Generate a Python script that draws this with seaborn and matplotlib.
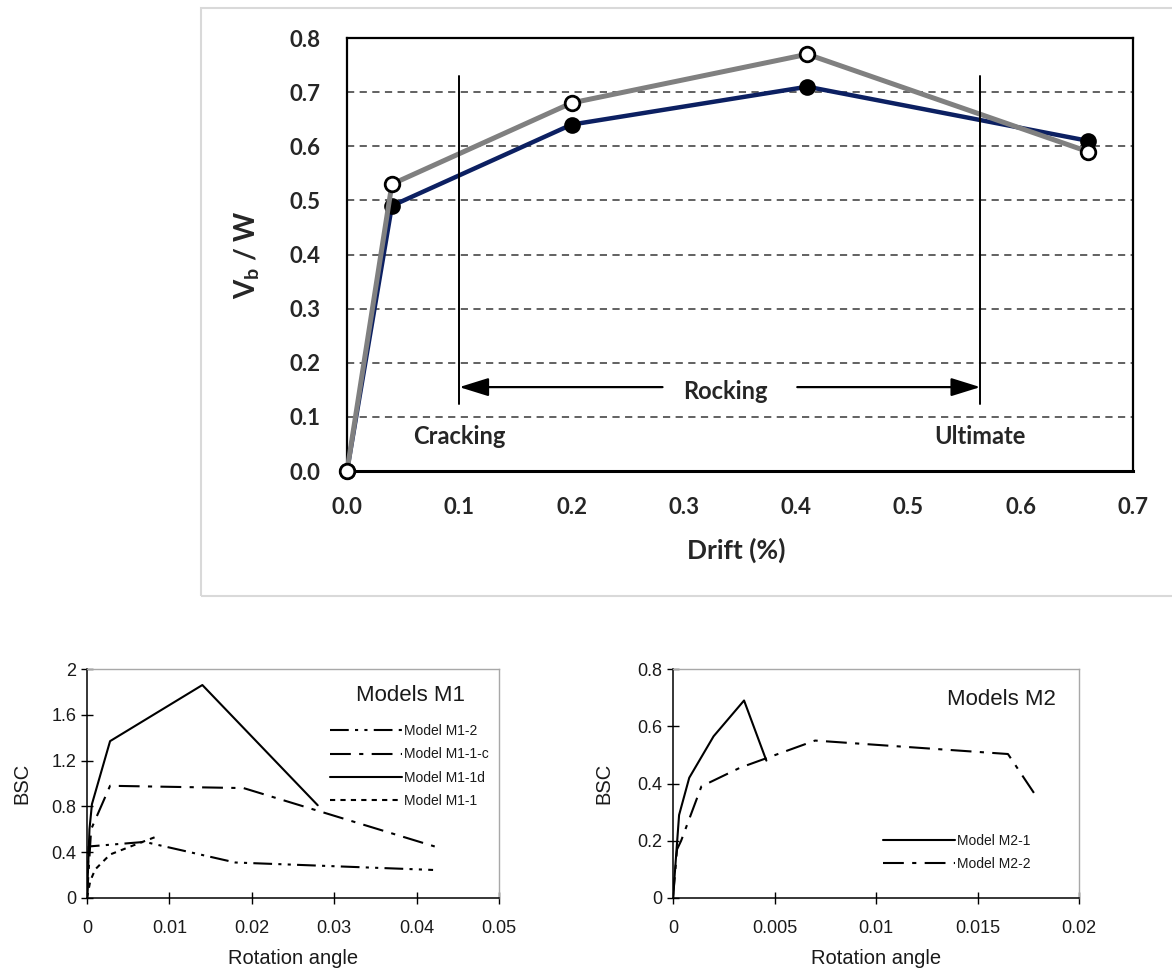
import numpy as np
import pandas as pd
import matplotlib
matplotlib.use("Agg")
import matplotlib.pyplot as plt
import matplotlib.patches as mpatches
import seaborn as sns

# ---------------- data ----------------
drift = [0.0, 0.04, 0.20, 0.41, 0.66]
vb_navy = [0.0, 0.49, 0.64, 0.71, 0.61]
vb_gray = [0.0, 0.53, 0.68, 0.77, 0.59]
top_xticks = [0.0, 0.1, 0.2, 0.3, 0.4, 0.5, 0.6, 0.7]
top_yticks = [0.0, 0.1, 0.2, 0.3, 0.4, 0.5, 0.6, 0.7, 0.8]
cracking_drift = 0.10
ultimate_drift = 0.564

m1_2_x = [0.0, 0.0002, 0.007, 0.018, 0.042]
m1_2_y = [0.0, 0.45, 0.49, 0.31, 0.245]
m1_1c_x = [0.0, 0.0005, 0.0028, 0.019, 0.0422]
m1_1c_y = [0.0, 0.60, 0.98, 0.96, 0.45]
m1_1d_x = [0.0, 0.0003, 0.0006, 0.0028, 0.014, 0.028]
m1_1d_y = [0.0, 0.60, 0.82, 1.37, 1.86, 0.81]
m1_1_x = [0.0, 0.0004, 0.001, 0.0028, 0.006, 0.0082]
m1_1_y = [0.0, 0.15, 0.25, 0.38, 0.47, 0.53]
m1_xticks = [0, 0.01, 0.02, 0.03, 0.04, 0.05]
m1_xlabels = ["0", "0.01", "0.02", "0.03", "0.04", "0.05"]
m1_yticks = [0, 0.4, 0.8, 1.2, 1.6, 2.0]
m1_ylabels = ["0", "0.4", "0.8", "1.2", "1.6", "2"]

m2_1_x = [0.0, 0.0003, 0.0008, 0.002, 0.0035, 0.0046]
m2_1_y = [0.0, 0.29, 0.42, 0.565, 0.69, 0.48]
m2_2_x = [0.0, 0.0002, 0.0004, 0.0014, 0.0033, 0.007, 0.0165, 0.0178]
m2_2_y = [0.0, 0.17, 0.20, 0.39, 0.455, 0.55, 0.503, 0.365]
m2_xticks = [0, 0.005, 0.01, 0.015, 0.02]
m2_xlabels = ["0", "0.005", "0.01", "0.015", "0.02"]
m2_yticks = [0, 0.2, 0.4, 0.6, 0.8]
m2_ylabels = ["0", "0.2", "0.4", "0.6", "0.8"]

# ---------------- style ----------------
sns.set_theme(style="white")
plt.rcParams['font.family'] = ['Lato', 'DejaVu Sans']
plt.rcParams['mathtext.fontset'] = 'custom'
plt.rcParams['mathtext.rm'] = 'Lato'
plt.rcParams['mathtext.bf'] = 'Lato:bold'

W, H = 1172, 969
fig = plt.figure(figsize=(W / 100, H / 100), dpi=100)
fig.patch.set_facecolor('white')

def fx(px):
    return px / W

def fy(py):
    return 1 - py / H

# outer frame around top chart
fig.add_artist(mpatches.Rectangle((fx(201), fy(596)), fx(1180 - 201), (596 - 8) / H,
                                  transform=fig.transFigure, fill=False,
                                  edgecolor='#d9d9d9', lw=1.5))

# ---------------- top chart ----------------
ax = fig.add_axes([fx(347), fy(471), (1133 - 347) / W, (471 - 38) / H])
ax.set_facecolor('white')
for y in top_yticks[1:-1]:
    ax.axhline(y, color='#555555', lw=1.3, linestyle=(0, (4, 3)), zorder=1)

df_top = pd.DataFrame({'drift': drift, 'navy': vb_navy, 'gray': vb_gray})
sns.lineplot(data=df_top, x='drift', y='navy', ax=ax, color='#0c2062', lw=3.2,
             marker='o', markersize=10.5, markerfacecolor='black',
             markeredgecolor='black', markeredgewidth=1.5, zorder=3, clip_on=False)
sns.lineplot(data=df_top, x='drift', y='gray', ax=ax, color='#808080', lw=3.6,
             marker='o', markersize=10.5, markerfacecolor='white',
             markeredgecolor='black', markeredgewidth=2, zorder=4, clip_on=False)

ax.set_xlim(0, 0.7)
ax.set_ylim(0, 0.8)
ax.set_xticks(top_xticks)
ax.set_xticklabels([f"{v:.1f}" for v in top_xticks])
ax.set_yticks(top_yticks)
ax.set_yticklabels([f"{v:.1f}" for v in top_yticks])
ax.tick_params(axis='both', length=0, pad=19, labelsize=16)
for lab in ax.get_xticklabels() + ax.get_yticklabels():
    lab.set_fontweight('bold')
for sp in ax.spines.values():
    sp.set_color('black')
    sp.set_linewidth(1.6)
ax.spines['bottom'].set_linewidth(2.2)

ax.set_xlabel('Drift (%)', fontsize=19, fontweight='bold')
ax.set_ylabel(r'$\mathbf{V_b}$ / W', fontsize=20, fontweight='bold')
ax.xaxis.set_label_coords(0.495, -0.155)
ax.yaxis.set_label_coords(-0.108, 0.5)

# cracking / ultimate markers
for xv in (cracking_drift, ultimate_drift):
    ax.plot([xv, xv], [0.124, 0.73], color='black', lw=1.4, zorder=5)
ax.annotate('', xy=(cracking_drift, 0.155), xytext=(0.281, 0.155),
            arrowprops=dict(arrowstyle='-|>,head_length=0.9,head_width=0.28',
                            color='black', lw=1.6, mutation_scale=20,
                            shrinkA=0, shrinkB=0), zorder=5)
ax.annotate('', xy=(ultimate_drift, 0.155), xytext=(0.401, 0.155),
            arrowprops=dict(arrowstyle='-|>,head_length=0.9,head_width=0.28',
                            color='black', lw=1.6, mutation_scale=20,
                            shrinkA=0, shrinkB=0), zorder=5)
ax.text(0.337, 0.146, 'Rocking', ha='center', va='center', fontsize=17, fontweight='bold')
ax.text(cracking_drift, 0.063, 'Cracking', ha='center', va='center', fontsize=17, fontweight='bold')
ax.text(ultimate_drift, 0.063, 'Ultimate', ha='center', va='center', fontsize=17, fontweight='bold')

# ---------------- bottom charts ----------------
sans = ['Liberation Sans', 'DejaVu Sans']
txtc = '#1a1a1a'

def style_bottom(a, xticks, xlabels, yticks, ylabels, xlim, ylim, ylab_x):
    a.set_facecolor('white')
    a.set_xlim(*xlim)
    a.set_ylim(*ylim)
    a.set_xticks(xticks)
    a.set_xticklabels(xlabels, family=sans, color=txtc)
    a.set_yticks(yticks)
    a.set_yticklabels(ylabels, family=sans, color=txtc)
    a.tick_params(axis='both', direction='inout', length=9, width=1, color='black',
                  labelsize=13, left=True, bottom=True)
    a.tick_params(axis='x', pad=11)
    a.tick_params(axis='y', pad=3)
    for s in ('left', 'bottom'):
        a.spines[s].set_color('black')
        a.spines[s].set_linewidth(1.1)
    for s in ('top', 'right'):
        a.spines[s].set_color('#a8a8a8')
        a.spines[s].set_linewidth(1.0)
    a.set_xlabel('Rotation angle', family=sans, fontsize=14.5, color=txtc)
    a.set_ylabel('BSC', family=sans, fontsize=14.5, color=txtc)
    a.xaxis.set_label_coords(0.5, -0.222)
    a.yaxis.set_label_coords(ylab_x, 0.5)

ax1 = fig.add_axes([fx(87), fy(898), (499 - 87) / W, (898 - 669) / H])
lw_b = 1.5
sns.lineplot(x=m1_2_x, y=m1_2_y, ax=ax1, color='black', lw=lw_b,
             linestyle=(0, (9, 3, 1.5, 3, 1.5, 3)), label='Model M1-2')
sns.lineplot(x=m1_1c_x, y=m1_1c_y, ax=ax1, color='black', lw=lw_b,
             linestyle=(0, (10, 4, 2, 4)), label='Model M1-1-c')
sns.lineplot(x=m1_1d_x, y=m1_1d_y, ax=ax1, color='black', lw=lw_b,
             linestyle='-', label='Model M1-1d')
sns.lineplot(x=m1_1_x, y=m1_1_y, ax=ax1, color='black', lw=lw_b,
             linestyle=(0, (2.5, 2.5)), label='Model M1-1')
style_bottom(ax1, m1_xticks, m1_xlabels, m1_yticks, m1_ylabels, (0, 0.05), (0, 2), -0.136)
ax1.legend(loc='upper left', bbox_to_anchor=(0.59, 0.76), frameon=False,
           prop={'family': sans, 'size': 10}, handlelength=5.2, handletextpad=0.15,
           borderpad=0, borderaxespad=0, labelspacing=0.68, labelcolor=txtc)
ax1.text(0.784, 0.886, 'Models M1', transform=ax1.transAxes, ha='center', va='center',
         family=sans, fontsize=16, color=txtc)

ax2 = fig.add_axes([fx(673), fy(898), (1079 - 673) / W, (898 - 669) / H])
sns.lineplot(x=m2_1_x, y=m2_1_y, ax=ax2, color='black', lw=lw_b,
             linestyle='-', label='Model M2-1')
sns.lineplot(x=m2_2_x, y=m2_2_y, ax=ax2, color='black', lw=lw_b,
             linestyle=(0, (10, 4, 2, 4)), label='Model M2-2')
style_bottom(ax2, m2_xticks, m2_xlabels, m2_yticks, m2_ylabels, (0, 0.02), (0, 0.8), -0.148)
ax2.legend(loc='upper left', bbox_to_anchor=(0.517, 0.28), frameon=False,
           prop={'family': sans, 'size': 10}, handlelength=5.2, handletextpad=0.15,
           borderpad=0, borderaxespad=0, labelspacing=0.68, labelcolor=txtc)
ax2.text(0.81, 0.865, 'Models M2', transform=ax2.transAxes, ha='center', va='center',
         family=sans, fontsize=16, color=txtc)

fig.savefig('out.png', dpi=100, facecolor='white')
